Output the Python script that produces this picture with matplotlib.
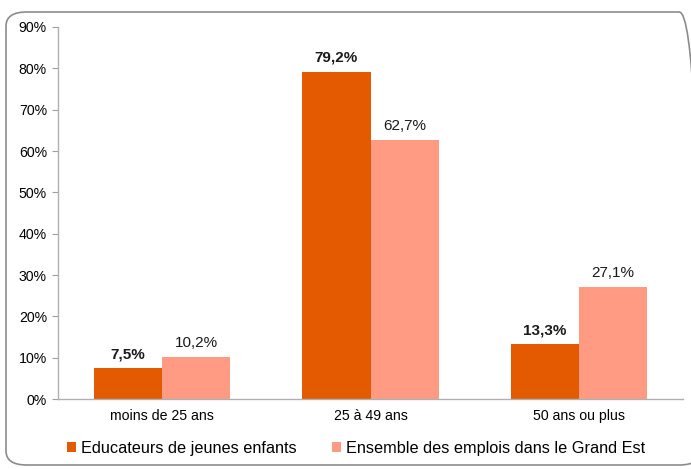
import matplotlib
matplotlib.use("Agg")
import matplotlib.pyplot as plt
import numpy as np
from matplotlib.patches import FancyBboxPatch

plt.rcParams['font.family'] = ['Liberation Sans', 'DejaVu Sans']

categories = ["moins de 25 ans", "25 à 49 ans", "50 ans ou plus"]
series_names = ["Educateurs de jeunes enfants", "Ensemble des emplois dans le Grand Est"]
educ = [7.5, 79.2, 13.3]
ensemble = [10.2, 62.7, 27.1]
yticks = [0, 10, 20, 30, 40, 50, 60, 70, 80, 90]

c1 = "#E35A00"
c2 = "#FF9B82"

fig = plt.figure(figsize=(6.91, 4.69), dpi=100)
# rounded frame
frame = FancyBboxPatch((6/691, 4/469), (700-6)/691, (457-4)/469,
                       boxstyle="round,pad=0,rounding_size=0.03",
                       transform=fig.transFigure, fill=False,
                       edgecolor="#8c8c8c", linewidth=1.2, clip_on=False)
fig.patches.append(frame)

ax = fig.add_axes([58/691, 1-399/469, (683-58)/691, (399-27)/469])
x = np.arange(len(categories))
w = 0.327
b1 = ax.bar(x - w/2, educ, w, color=c1, label=series_names[0])
b2 = ax.bar(x + w/2, ensemble, w, color=c2, label=series_names[1])

for rect, v in zip(b1, educ):
    ax.annotate(f"{v:.1f}%".replace(".", ","), (rect.get_x()+rect.get_width()/2, v),
                xytext=(0, 5), textcoords="offset points", ha="center", va="bottom",
                fontsize=11, fontweight="bold", color="#1a1a1a")
for rect, v in zip(b2, ensemble):
    ax.annotate(f"{v:.1f}%".replace(".", ","), (rect.get_x()+rect.get_width()/2, v),
                xytext=(0, 5), textcoords="offset points", ha="center", va="bottom",
                fontsize=11, color="#1a1a1a")

ax.set_xlim(-0.5, 2.5)
ax.set_ylim(0, 90)
ax.set_yticks(yticks)
ax.set_yticklabels([f"{t}%" for t in yticks], fontsize=10.2)
ax.set_xticks(x)
ax.set_xticklabels(categories, fontsize=10.2)
ax.tick_params(axis="x", length=0, pad=7)
ax.tick_params(axis="y", length=4, color="#a0a0a0", pad=4, direction="out")
for s in ["top", "right"]:
    ax.spines[s].set_visible(False)
for s in ["left", "bottom"]:
    ax.spines[s].set_color("#b0b0b0")
    ax.spines[s].set_linewidth(1.0)

leg = fig.legend(handles=[b1, b2], labels=series_names, loc="center",
                 bbox_to_anchor=(356/691, 1-448/469), ncol=2, frameon=False,
                 fontsize=11.7, handlelength=0.55, handleheight=0.55, handletextpad=0.3,
                 columnspacing=2.2)

fig.savefig("out.png", dpi=100)
